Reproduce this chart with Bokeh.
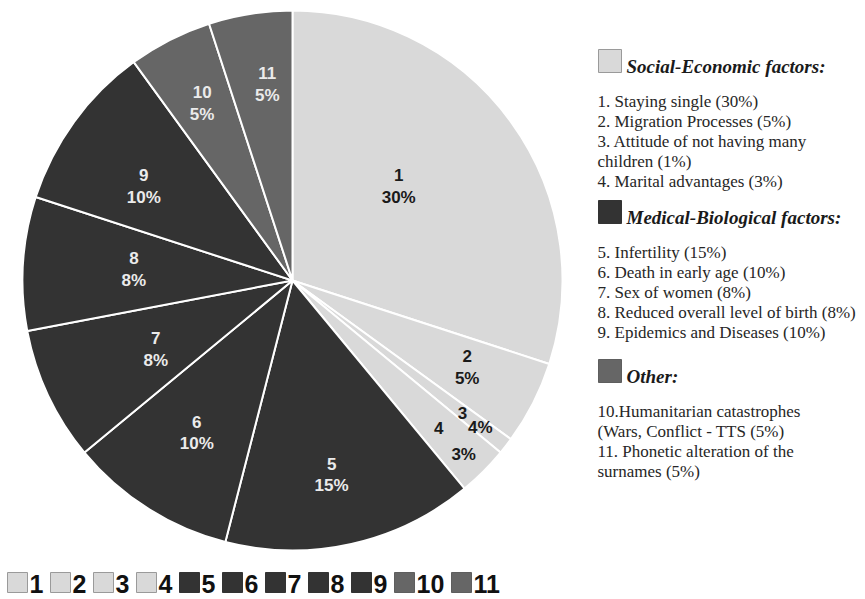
import numpy as np
from bokeh.plotting import figure
from bokeh.models import Range1d
from bokeh.core.properties import value
from bokeh.embed import file_html
from bokeh.resources import INLINE

# ---------------- data ----------------
slice_ids = ["1", "2", "3", "4", "5", "6", "7", "8", "9", "10", "11"]
shares = [30, 5, 1, 3, 15, 10, 8, 8, 10, 5, 5]
pct_labels = ["30%", "5%", "4%", "3%", "15%", "10%", "8%", "8%", "10%", "5%", "5%"]
groups = ["social"] * 4 + ["medical"] * 5 + ["other"] * 2

group_keys = ["social", "medical", "other"]
group_titles = ["Social-Economic factors:", "Medical-Biological factors:", "Other:"]
social_items = ["1. Staying single (30%)", "2. Migration Processes (5%)",
                "3. Attitude of not having many", "children (1%)",
                "4. Marital advantages (3%)"]
medical_items = ["5. Infertility (15%)", "6. Death in early age (10%)",
                 "7. Sex of women (8%)", "8. Reduced overall level of birth (8%)",
                 "9. Epidemics and Diseases (10%)"]
other_items = ["10.Humanitarian catastrophes", "(Wars, Conflict - TTS (5%)",
               "11. Phonetic alteration of the", "surnames (5%)"]
group_items = [social_items, medical_items, other_items]

# ---------------- styles / layout ----------------
fill_of = {"social": "#d9d9d9", "medical": "#333333", "other": "#666666"}
edge_of = {"social": "#9a9a9a", "medical": "#333333", "other": "#5e5e5e"}
label_color_of = {"social": "#1a1a1a", "medical": "#ebebeb", "other": "#ebebeb"}

W, H = 865, 599
def Y(img_y):
    return H - img_y

cx, cy, R = 292, Y(280), 270
label_r = [142, 195, 227, 226, 198, 180, 153, 159, 176, 199, 198]
label_nudge_deg = [-5.6, -0.6, 0.2, 0.4, 1.2, -0.3, -1.5, 0.5, -3.7, 0.0, 1.7]
num_off = [(0, -11)] * 11
pct_off = [(0, 11)] * 11
num_off[2], pct_off[2] = (-9, -7), (9, 7)
num_off[3], pct_off[3] = (-12.5, -13.5), (12.5, 13.5)

p = figure(width=W, height=H, output_backend="svg", toolbar_location=None,
           x_range=Range1d(0, W), y_range=Range1d(0, H),
           min_border=0, outline_line_color=None)
p.axis.visible = False
p.grid.visible = False
p.background_fill_color = "white"

# ---------------- pie ----------------
fr = np.concatenate([[0], np.cumsum(shares)]) / float(sum(shares))
start = np.pi / 2 - 2 * np.pi * fr[1:]
end = np.pi / 2 - 2 * np.pi * fr[:-1]
p.wedge(x=cx, y=cy, radius=R, start_angle=list(start), end_angle=list(end),
        fill_color=[fill_of[g] for g in groups], line_color="white", line_width=2)

# slice labels
for i, sid in enumerate(slice_ids):
    mid = 2 * np.pi * (fr[i] + fr[i + 1]) / 2 + np.radians(label_nudge_deg[i])
    ax = cx + label_r[i] * np.sin(mid)
    ay = cy + label_r[i] * np.cos(mid)
    col = label_color_of[groups[i]]
    for txt, (dx, dy) in ((sid, num_off[i]), (pct_labels[i], pct_off[i])):
        p.text(x=[ax + dx], y=[ay - dy], text=[txt], text_align="center",
               text_baseline="middle", text_font=value("Liberation Sans"),
               text_font_style="bold", text_font_size="17px", text_color=col)

# ---------------- right-hand legend ----------------
head_base = [72, 223, 382]
for k, g in enumerate(group_keys):
    b = head_base[k]
    p.quad(left=598, right=621, bottom=Y(b), top=Y(b - 23),
           fill_color=fill_of[g], line_color=edge_of[g], line_width=1)
    p.text(x=[626], y=[Y(b - 6.5)], text=[group_titles[k]], text_align="left",
           text_baseline="middle", text_font=value("Liberation Serif"),
           text_font_style="bold italic", text_font_size="19px",
           text_color="#1a1a1a")
    for j, item in enumerate(group_items[k]):
        p.text(x=[597], y=[Y(b + 35 + 20 * j - 6)], text=[item], text_align="left",
               text_baseline="middle", text_font=value("Liberation Serif"),
               text_font_size="17px", text_color="#262626")

# ---------------- bottom legend ----------------
x = 7
for i, sid in enumerate(slice_ids):
    g = groups[i]
    p.quad(left=x, right=x + 20, bottom=Y(592), top=Y(572),
           fill_color=fill_of[g], line_color=edge_of[g], line_width=1)
    p.text(x=[x + 22], y=[Y(583)], text=[sid], text_align="left",
           text_baseline="middle", text_font=value("Liberation Sans"),
           text_font_style="bold", text_font_size="25px", text_color="#111111")
    x += 20 + 2 + 14 * len(sid) + 7

open("out.html", "w").write(file_html(p, INLINE))
